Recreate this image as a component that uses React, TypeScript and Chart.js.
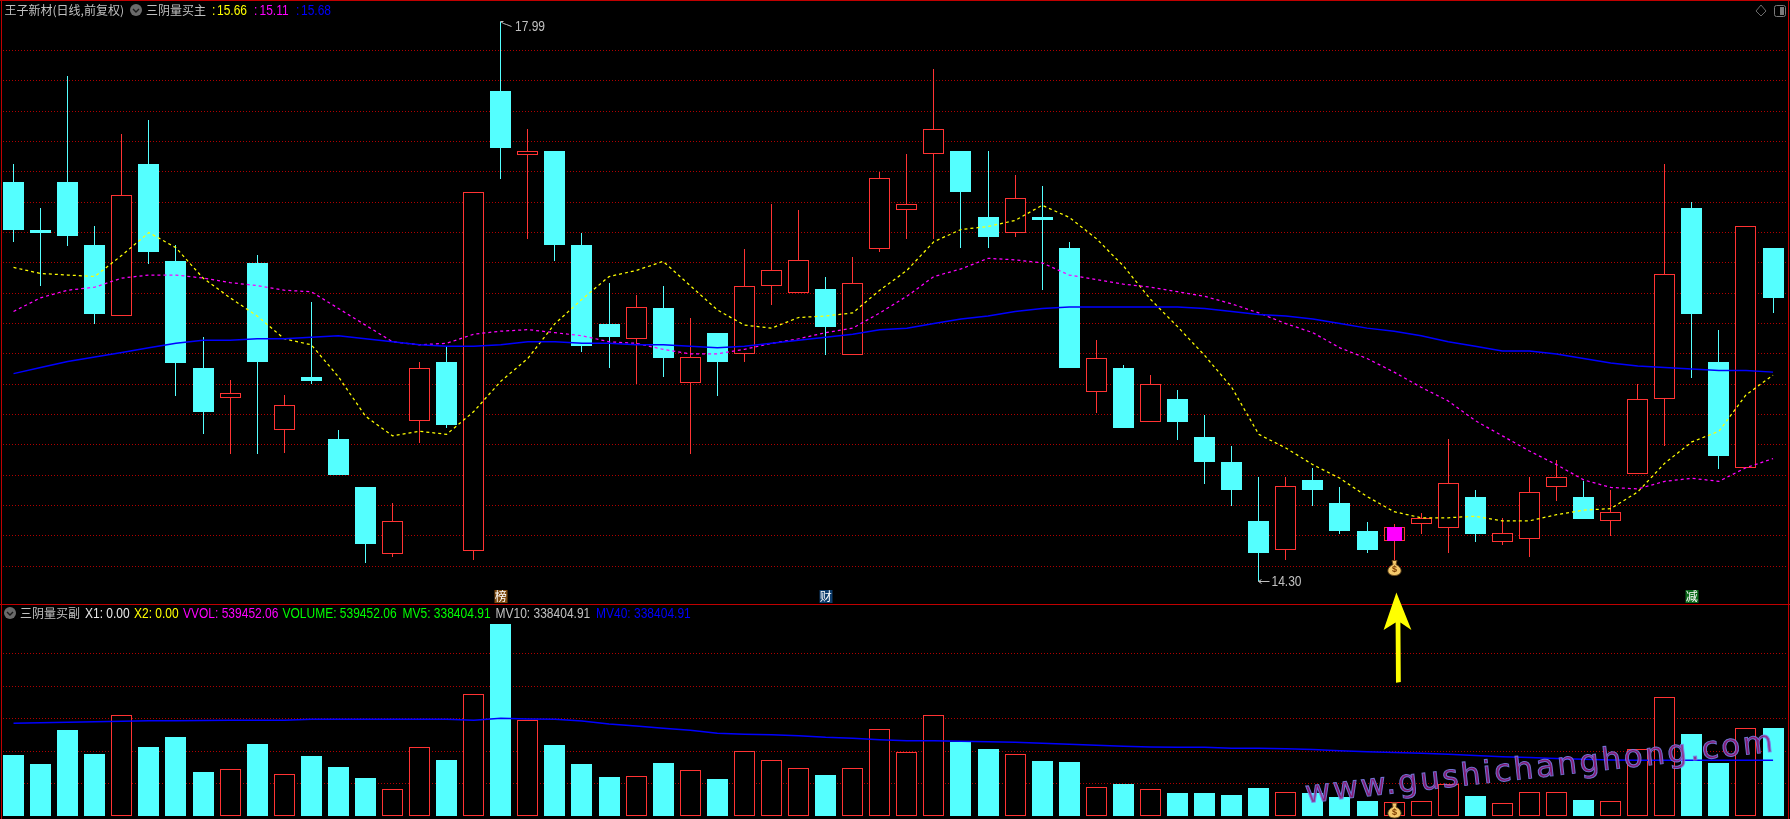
import React, { useEffect, useRef } from "react";
import { Chart, registerables } from "chart.js";

Chart.register(...registerables);

const categories = Array.from({ length: 66 }, (_, i) => `D${i + 1}`);

const opens = [16.93,16.62,16.93,16.52,16.05,17.05,16.41,15.71,15.51,16.40,15.30,15.65,15.24,14.92,14.48,15.36,15.75,14.50,17.53,17.11,17.14,16.52,16.00,15.90,16.10,15.61,15.94,15.80,16.25,16.20,16.23,15.79,16.49,16.75,17.12,17.14,16.70,16.60,16.70,16.50,15.55,15.71,15.35,15.50,15.25,15.09,14.70,14.51,14.97,14.82,14.63,14.57,14.68,14.65,14.86,14.56,14.58,14.92,14.86,14.70,15.01,15.50,16.76,15.75,15.05,16.50];
const closes = [16.62,16.60,16.58,16.06,16.85,16.47,15.74,15.42,15.54,15.75,15.46,15.62,15.00,14.55,14.70,15.71,15.33,16.87,17.16,17.14,16.52,15.85,15.91,16.11,15.77,15.78,15.75,16.25,16.35,16.42,15.98,16.27,16.96,16.79,17.28,16.87,16.57,16.83,16.68,15.71,15.77,15.31,15.60,15.35,15.09,14.90,14.49,14.93,14.90,14.63,14.51,14.66,14.72,14.95,14.61,14.62,14.89,14.99,14.71,14.76,15.50,16.33,16.06,15.13,16.64,16.17];
const highs = [17.05,16.76,17.63,16.64,17.25,17.34,16.52,15.91,15.63,16.45,15.53,16.14,15.30,14.92,14.82,15.75,15.85,16.87,17.99,17.28,17.14,16.60,16.27,16.19,16.25,16.04,15.94,16.49,16.79,16.75,16.31,16.44,17.00,17.12,17.68,17.14,17.14,16.98,16.91,16.54,15.89,15.73,15.66,15.56,15.40,15.19,14.99,14.99,15.05,14.92,14.69,14.68,14.75,15.24,14.90,14.72,14.99,15.10,14.96,14.90,15.60,17.05,16.80,15.96,16.64,16.50];
const lows = [16.54,16.25,16.51,16.00,16.05,16.39,15.52,15.27,15.14,15.14,15.15,15.60,15.00,14.42,14.46,15.21,15.31,14.44,16.95,16.56,16.41,15.81,15.71,15.60,15.65,15.14,15.52,15.75,16.12,16.20,15.79,15.79,16.47,16.56,16.56,16.50,16.50,16.57,16.22,15.71,15.41,15.31,15.35,15.23,14.94,14.80,14.30,14.44,14.80,14.61,14.49,14.44,14.61,14.49,14.56,14.54,14.46,14.83,14.71,14.60,15.01,15.19,15.64,15.04,15.05,16.07];

const ma5 = [16.37,16.33,16.32,16.31,16.45,16.60,16.50,16.30,16.17,16.05,15.90,15.86,15.65,15.39,15.26,15.29,15.27,15.42,15.62,15.77,16.00,16.16,16.31,16.35,16.41,16.25,16.09,15.99,15.97,16.04,16.05,16.07,16.22,16.35,16.54,16.62,16.64,16.68,16.78,16.70,16.56,16.38,16.16,15.98,15.79,15.58,15.27,15.18,15.07,14.98,14.86,14.76,14.72,14.72,14.73,14.70,14.70,14.74,14.77,14.78,14.89,15.08,15.22,15.29,15.53,15.66];
const ma10 = [16.08,16.17,16.22,16.24,16.30,16.32,16.32,16.30,16.27,16.25,16.22,16.21,16.10,15.99,15.88,15.86,15.87,15.93,15.95,15.96,15.94,15.92,15.88,15.87,15.83,15.80,15.80,15.83,15.87,15.90,15.94,15.97,16.07,16.18,16.31,16.36,16.43,16.42,16.40,16.32,16.29,16.26,16.24,16.21,16.18,16.13,16.07,16.00,15.94,15.84,15.77,15.68,15.58,15.49,15.36,15.26,15.16,15.07,14.97,14.92,14.91,14.96,14.98,14.96,15.05,15.11];
const ma40 = [15.67,15.71,15.75,15.78,15.81,15.84,15.87,15.89,15.89,15.90,15.90,15.91,15.92,15.90,15.88,15.86,15.85,15.85,15.86,15.88,15.88,15.87,15.87,15.86,15.86,15.85,15.84,15.85,15.87,15.89,15.91,15.93,15.96,15.97,16.00,16.03,16.05,16.08,16.10,16.11,16.11,16.11,16.11,16.11,16.10,16.08,16.06,16.05,16.03,16.00,15.97,15.95,15.92,15.88,15.85,15.82,15.82,15.80,15.77,15.74,15.72,15.71,15.70,15.69,15.69,15.68];

const volumes = [375400,320000,529000,381500,619700,424600,486200,270800,287400,443100,256600,369200,301500,233900,164300,422800,344600,748900,1181600,588900,436900,320000,240000,244300,326200,281200,227700,398200,342800,293500,252300,293500,533600,392000,619700,455400,412300,379700,338500,332300,176600,196900,164300,141500,141500,129200,172300,145900,141500,116900,92300,86200,90500,196900,123100,78200,145900,145900,98500,90500,410500,730500,504600,326200,539700,539452];
const mv40 = [570500,574200,576600,580300,582800,586500,586500,587700,588900,588900,588900,595100,595100,595100,595100,595100,595100,588900,601200,596900,595100,584600,566200,553900,539700,527400,508900,502800,500300,494200,484300,478200,469600,463400,463400,459700,457200,453500,447400,441200,435100,428900,424600,422800,422800,416600,416600,414200,409200,401900,395700,390800,385900,379700,372300,364900,360000,353900,348900,344600,342800,342800,342800,342800,342800,342800];

const priceTicks = [14.4,14.6,14.8,15.0,15.2,15.4,15.6,15.8,16.0,16.2,16.4,16.6,16.8,17.0,17.2,17.4,17.6,17.8];
const volumeTicks = [200000,400000,600000,800000,1000000];

const signalIndex = 51;
const highIndex = 18;
const lowIndex = 46;
const tagLabels = [
  { index: 18, text: "榜", bg: "#7c4a10" },
  { index: 30, text: "财", bg: "#0c3c6c" },
  { index: 62, text: "减", bg: "#0a6a1a" },
];

const CYAN = "#54FFFF";
const RED = "#FF3333";
const GRID = "#B00000";
const CJK = "'Noto Sans CJK SC', sans-serif";
const LATIN = "'Liberation Sans',sans-serif";

const crispBars = {
  id: "crispBars",
  beforeDatasetsDraw(chart: any) {
    chart.getSortedVisibleDatasetMetas().forEach((meta: any) => {
      if (meta.type !== "bar") return;
      meta.data.forEach((el: any) => {
        el.x = Math.floor(el.x) + 0.5;
        el.y = Math.round(el.y);
        el.base = Math.round(el.base);
      });
    });
  },
};

function drawBag(ctx: CanvasRenderingContext2D, x: number, y: number) {
  ctx.save();
  ctx.fillStyle = "#F4C96C";
  ctx.strokeStyle = "#6b4a1c";
  ctx.lineWidth = 1;
  ctx.beginPath();
  ctx.moveTo(x - 2.5, y - 7.5);
  ctx.lineTo(x + 2.5, y - 7.5);
  ctx.lineTo(x + 1.5, y - 3.5);
  ctx.bezierCurveTo(x + 9, y, x + 8, y + 7.5, x, y + 7.5);
  ctx.bezierCurveTo(x - 8, y + 7.5, x - 9, y, x - 1.5, y - 3.5);
  ctx.closePath();
  ctx.fill();
  ctx.stroke();
  ctx.fillStyle = "#7a3a00";
  ctx.font = "bold 9px 'Liberation Sans'";
  ctx.textAlign = "center";
  ctx.textBaseline = "middle";
  ctx.fillText("$", x, y + 2);
  ctx.restore();
}

function tallText(ctx: CanvasRenderingContext2D, text: string, x: number, y: number) {
  ctx.save();
  ctx.translate(x, y);
  ctx.scale(1, 1.2);
  ctx.font = `12px ${LATIN}`;
  ctx.textBaseline = "middle";
  ctx.textAlign = "left";
  ctx.fillText(text, 0, 0);
  ctx.restore();
}

const priceOverlay = {
  id: "priceOverlay",
  afterDatasetsDraw(chart: any) {
    const { ctx, scales } = chart;
    const xp = (i: number) => Math.floor(scales.x.getPixelForValue(i)) + 0.5;
    const yp = (v: number) => scales.y.getPixelForValue(v);
    ctx.save();
    ctx.strokeStyle = "#C0C0C0";
    ctx.fillStyle = "#C0C0C0";
    ctx.lineWidth = 1;

    const hx = xp(highIndex);
    const hy = Math.round(yp(highs[highIndex])) - 0.5;
    ctx.beginPath();
    ctx.moveTo(hx, hy);
    ctx.lineTo(hx + 3, hy + 2);
    ctx.lineTo(hx + 6, hy + 3);
    ctx.lineTo(hx + 11, hy + 5);
    ctx.moveTo(hx, hy);
    ctx.lineTo(hx + 3, hy);
    ctx.stroke();
    tallText(ctx, highs[highIndex].toFixed(2), hx + 14.5, hy + 6);

    const lx = xp(lowIndex);
    const ly = Math.round(yp(lows[lowIndex])) + 0.5;
    ctx.beginPath();
    ctx.moveTo(lx, ly);
    ctx.lineTo(lx + 11, ly);
    ctx.moveTo(lx + 3, ly - 2);
    ctx.lineTo(lx, ly);
    ctx.lineTo(lx + 3, ly + 2);
    ctx.stroke();
    tallText(ctx, lows[lowIndex].toFixed(2), lx + 13, ly + 1);

    tagLabels.forEach((t) => {
      const x = scales.x.getPixelForValue(t.index);
      ctx.fillStyle = t.bg;
      ctx.fillRect(Math.round(x) - 6.5, 590, 13, 13);
      ctx.fillStyle = "#FFFFFF";
      ctx.font = `12px ${CJK}`;
      ctx.textAlign = "center";
      ctx.textBaseline = "middle";
      ctx.fillText(t.text, x, 596.5);
    });

    drawBag(ctx, xp(signalIndex), 568);
    ctx.restore();
  },
};

const volumeOverlay = {
  id: "volumeOverlay",
  afterDatasetsDraw(chart: any) {
    const { ctx, scales } = chart;
    drawBag(ctx, Math.floor(scales.x.getPixelForValue(signalIndex)) + 0.5, 206.5);
  },
};

const legendTop = [
  { t: "15.66", x: 217, c: "#FFFF00" },
  { t: "15.11", x: 259.5, c: "#FF00FF" },
  { t: "15.68", x: 301, c: "#0000FF" },
];
const legendTopColons = [
  { x: 212, c: "#FFFF00" },
  { x: 254, c: "#FF00FF" },
  { x: 296, c: "#0000FF" },
];
const legendBottom = [
  { t: "X1: 0.00", x: 85, c: "#E8E8E8" },
  { t: "X2: 0.00", x: 134, c: "#FFFF00" },
  { t: "VVOL: 539452.06", x: 183, c: "#FF00FF" },
  { t: "VOLUME: 539452.06", x: 282.5, c: "#00FF00" },
  { t: "MV5: 338404.91", x: 402.5, c: "#00FF00" },
  { t: "MV10: 338404.91", x: 495.5, c: "#C0C0C0" },
  { t: "MV40: 338404.91", x: 596, c: "#0000FF" },
];

function Label(props: { x: number; y: number; c: string; cjk?: boolean; children: React.ReactNode }) {
  return (
    <span
      style={{
        position: "absolute",
        left: props.x,
        top: props.y - 10,
        height: 20,
        lineHeight: "20px",
        color: props.c,
        fontFamily: props.cjk ? CJK : LATIN,
        fontSize: 12,
        transform: props.cjk ? "none" : "scaleY(1.2)",
        whiteSpace: "nowrap",
      }}
    >
      {props.children}
    </span>
  );
}

function Chevron(props: { x: number; y: number }) {
  return (
    <svg style={{ position: "absolute", left: props.x - 7, top: props.y - 7 }} width={14} height={14}>
      <circle cx={7} cy={7} r={6} fill="#6a6a6a" />
      <path d="M4 6 L7 9 L10 6" stroke="#1a1a1a" strokeWidth={1.4} fill="none" />
    </svg>
  );
}

export default function App() {
  const topRef = useRef<HTMLCanvasElement>(null);
  const botRef = useRef<HTMLCanvasElement>(null);

  useEffect(() => {
    const isUp = (i: number) => closes[i] >= opens[i];
    const barColors = categories.map((_, i) => (isUp(i) ? RED : CYAN));
    const fills = categories.map((_, i) => (isUp(i) ? "#000000" : CYAN));

    const xScale = { type: "category" as const, display: false, offset: true, grid: { display: false } };
    const yScale = (min: number, max: number, ticks: number[]) => ({
      type: "linear" as const,
      min,
      max,
      afterBuildTicks: (axis: any) => {
        axis.ticks = ticks.map((value) => ({ value }));
      },
      ticks: { display: false },
      grid: { color: GRID, lineWidth: 1, drawTicks: false },
      border: { display: false, dash: [1, 2] },
    });
    const common = {
      responsive: false,
      maintainAspectRatio: false,
      animation: false as const,
      layout: { padding: { left: 0, right: 3.4, top: 0, bottom: 0 } },
      plugins: { legend: { display: false }, tooltip: { enabled: false } },
    };
    const line = (label: string, data: number[], color: string, dash: number[], width: number, order: number) => ({
      type: "line" as const,
      label,
      data,
      borderColor: color,
      borderWidth: width,
      borderDash: dash,
      pointRadius: 0,
      tension: 0,
      order,
    });

    const top = new Chart(topRef.current!, {
      type: "bar",
      data: {
        labels: categories,
        datasets: [
          line("MA5", ma5, "#FFFF00", [3, 3], 1.25, 3),
          line("MA10", ma10, "#FF00FF", [3, 3], 1.25, 2),
          line("MA40", ma40, "#0000FF", [], 1.5, 1),
          {
            type: "bar" as const,
            label: "signal",
            data: categories.map((_, i) => (i === signalIndex ? [opens[i], closes[i]] : null)),
            backgroundColor: "#FF00FF",
            barThickness: 15,
            inflateAmount: 0,
            grouped: false,
            order: 4,
          },
          {
            type: "bar" as const,
            label: "body",
            data: categories.map((_, i) => [opens[i], closes[i]]),
            backgroundColor: fills,
            borderColor: barColors,
            borderWidth: 1,
            borderSkipped: false,
            barThickness: 21,
            inflateAmount: 0,
            grouped: false,
            order: 5,
          },
          {
            type: "bar" as const,
            label: "wick",
            data: categories.map((_, i) => [lows[i], highs[i]]),
            backgroundColor: barColors,
            barThickness: 1,
            inflateAmount: 0,
            grouped: false,
            order: 6,
          },
        ],
      } as any,
      options: {
        ...common,
        scales: { x: xScale, y: yScale(14.1515, 18.133, priceTicks) },
      } as any,
      plugins: [crispBars, priceOverlay],
    });

    const bottom = new Chart(botRef.current!, {
      type: "bar",
      data: {
        labels: categories,
        datasets: [
          line("MV40", mv40, "#0000FF", [], 1.5, 1),
          {
            type: "bar" as const,
            label: "volume",
            data: volumes,
            backgroundColor: fills,
            borderColor: barColors,
            borderWidth: 1,
            borderSkipped: false,
            barThickness: 21,
            inflateAmount: 0,
            grouped: false,
            order: 2,
          },
        ],
      } as any,
      options: {
        ...common,
        scales: { x: xScale, y: yScale(-18462, 1304648, volumeTicks) },
      } as any,
      plugins: [crispBars, volumeOverlay],
    });

    return () => {
      top.destroy();
      bottom.destroy();
    };
  }, []);

  const frame = "#C00000";
  return (
    <div style={{ position: "fixed", left: 0, top: 0, width: 1790, height: 819, background: "#000", overflow: "hidden" }}>
      <canvas ref={topRef} width={1790} height={604} style={{ position: "absolute", left: 0, top: 0, display: "block" }} />
      <canvas ref={botRef} width={1790} height={215} style={{ position: "absolute", left: 0, top: 604, display: "block" }} />

      <div style={{ position: "absolute", left: 0, top: 0, width: 3, height: 819, background: "#000" }} />
      <div style={{ position: "absolute", left: 1, top: 0, width: 1, height: 819, background: frame }} />
      <div style={{ position: "absolute", left: 1788, top: 0, width: 2, height: 819, background: "#000" }} />
      <div style={{ position: "absolute", left: 1788, top: 0, width: 1, height: 819, background: frame }} />
      <div style={{ position: "absolute", left: 0, top: 0, width: 1790, height: 1, background: frame }} />
      <div style={{ position: "absolute", left: 0, top: 604, width: 1790, height: 1, background: frame }} />

      <Label x={4.5} y={10} c="#C0C0C0" cjk>王子新材(日线,前复权)</Label>
      <Chevron x={136} y={10} />
      <Label x={146} y={10} c="#C0C0C0" cjk>三阴量买主</Label>
      {legendTopColons.map((d, i) => (
        <Label key={i} x={d.x} y={10} c={d.c}>:</Label>
      ))}
      {legendTop.map((d, i) => (
        <Label key={i} x={d.x} y={10} c={d.c}>{d.t}</Label>
      ))}

      <Chevron x={10} y={612.5} />
      <Label x={20} y={612.5} c="#C0C0C0" cjk>三阴量买副</Label>
      {legendBottom.map((d, i) => (
        <Label key={i} x={d.x} y={612.5} c={d.c}>{d.t}</Label>
      ))}

      <svg style={{ position: "absolute", left: 0, top: 0, pointerEvents: "none" }} width={1790} height={819}>
        <path d="M1761 5 L1766 11 L1761 16 L1756 11 Z" stroke="#6a6a6a" fill="none" />
        <rect x={1774.5} y={5.5} width={11} height={11} rx={2} stroke="#7a7a7a" fill="none" />
        <rect x={1780} y={7} width={4} height={8} fill="#7a7a7a" />
        <path
          d="M1396.4 592.5 L1411.4 630 L1400.4 622.5 L1400.8 682 L1396 682.8 L1395.6 622.5 L1383.6 630 Z"
          fill="#FFFF00"
        />
      </svg>

      <div
        style={{
          position: "absolute",
          left: 1305,
          top: 772,
          transform: "rotate(-6.3deg)",
          transformOrigin: "0 50%",
          fontFamily: "'DejaVu Sans', sans-serif",
          fontSize: 31,
          lineHeight: "40px",
          letterSpacing: 2.6,
          color: "rgba(150,30,130,0.88)",
          WebkitTextStroke: "1px rgba(120,130,235,0.85)",
          whiteSpace: "nowrap",
        }}
      >
        www.gushichanghong.com
      </div>
    </div>
  );
}
